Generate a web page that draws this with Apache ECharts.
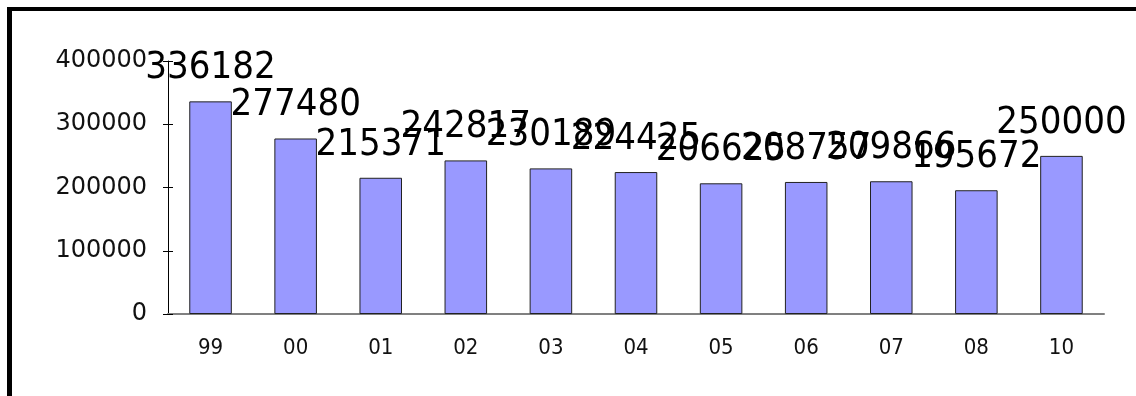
<!DOCTYPE html>
<html>
<head>
<meta charset="utf-8">
<script src="https://cdn.jsdelivr.net/npm/echarts@6/dist/echarts.min.js"></script>
<style>
  html, body { margin: 0; padding: 0; background: #fff; }
  #frame { position: absolute; left: 7px; top: 7px; width: 1129px; height: 389px;
           border-left: 5px solid #000; border-top: 4px solid #000; box-sizing: border-box; }
  #chart { position: absolute; left: 0; top: 0; width: 1136px; height: 396px; }
</style>
</head>
<body>
<div id="frame"></div>
<div id="chart"></div>
<script>
const years = ["99", "00", "01", "02", "03", "04", "05", "06", "07", "08", "10"];
const values = [336182, 277480, 215371, 242817, 230189, 224425, 206625, 208757, 209866, 195672, 250000];
const yTicks = [0, 100000, 200000, 300000, 400000];

const chart = echarts.init(document.getElementById("chart"));

const option = {
  animation: false,
  grid: { left: 168, right: 32, top: 61, bottom: 82 },
  xAxis: {
    type: "category",
    data: years,
    axisLine: { lineStyle: { color: "#808080", width: 2 } },
    axisTick: { show: false },
    axisLabel: {
      margin: 23,
      color: "#111",
      fontFamily: "DejaVu Sans Condensed",
      fontSize: 22
    }
  },
  yAxis: [
    {
      type: "value",
      min: yTicks[0],
      max: yTicks[yTicks.length - 1],
      interval: 100000,
      splitLine: { show: false },
      axisLine: { show: true, lineStyle: { color: "#000", width: 1 } },
      axisTick: { show: true, length: 5, lineStyle: { color: "#000" } },
      axisLabel: {
        margin: 21,
        color: "#111",
        fontFamily: "DejaVu Sans",
        fontSize: 24,
        formatter: (v) => String(v)
      }
    },
    {
      // inner half of the crossing ticks
      type: "value",
      position: "left",
      min: yTicks[0],
      max: yTicks[yTicks.length - 1],
      interval: 100000,
      splitLine: { show: false },
      axisLine: { show: false },
      axisTick: { show: true, inside: true, length: 5, lineStyle: { color: "#000" } },
      axisLabel: { show: false }
    }
  ],
  series: [
    {
      type: "bar",
      data: values,
      barWidth: "50%",
      itemStyle: { color: "#9999FF", borderColor: "#222", borderWidth: 1 },
      label: {
        show: true,
        position: "top",
        distance: 14,
        color: "#000",
        fontFamily: "DejaVu Sans Condensed",
        fontSize: 38
      }
    }
  ]
};

chart.setOption(option);
</script>
</body>
</html>
